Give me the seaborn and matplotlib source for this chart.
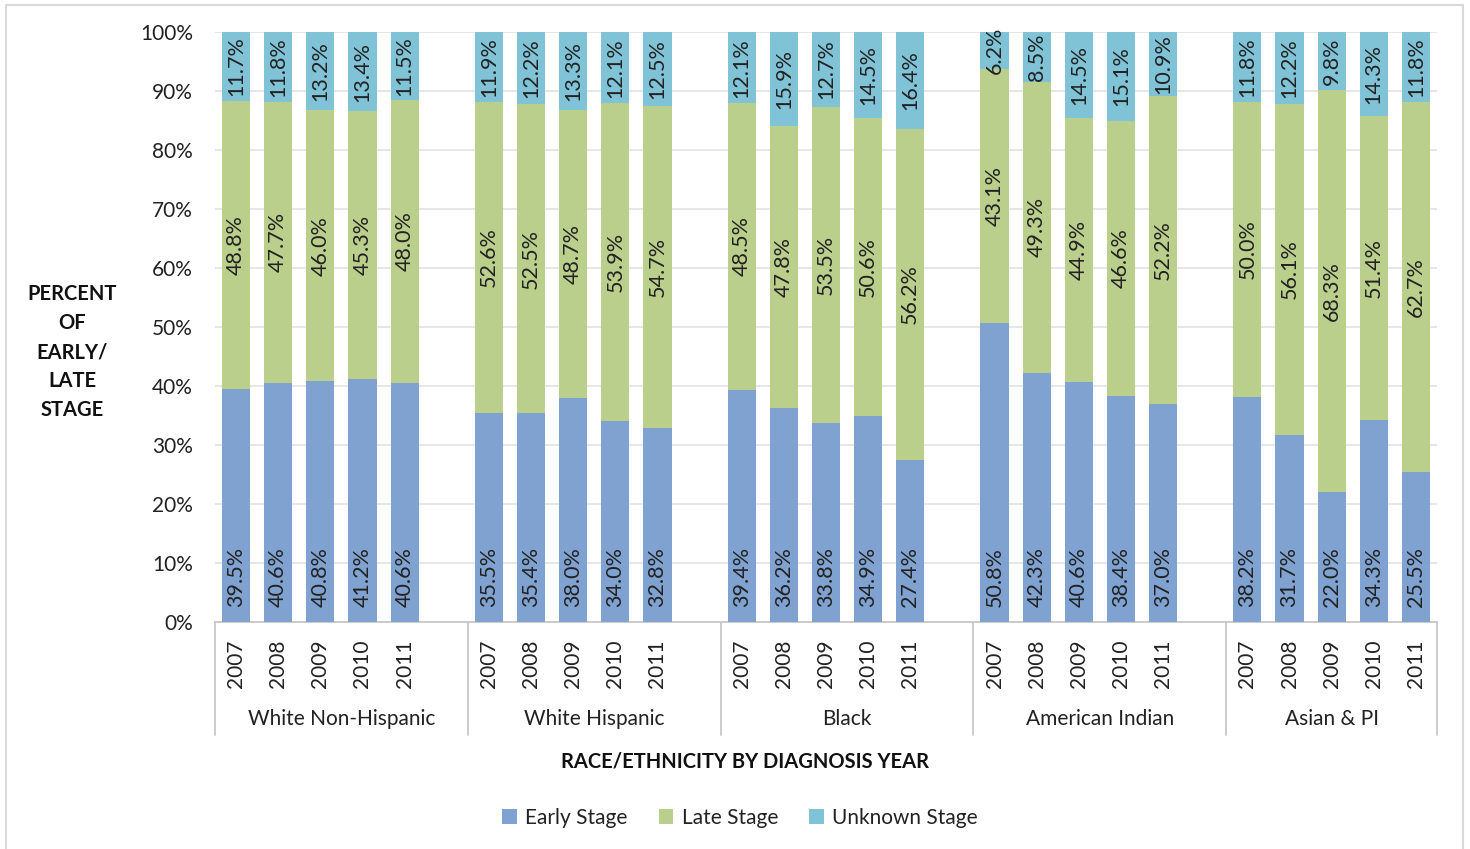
import matplotlib
matplotlib.use("Agg")
import matplotlib.pyplot as plt
import matplotlib.transforms as mtransforms
from matplotlib.patches import Rectangle, Patch
import numpy as np
import pandas as pd
import seaborn as sns

# ---- data ---------------------------------------------------------------
groups = ["White Non-Hispanic", "White Hispanic", "Black", "American Indian", "Asian & PI"]
years = ["2007", "2008", "2009", "2010", "2011"]

early = {
    "White Non-Hispanic": [39.5, 40.6, 40.8, 41.2, 40.6],
    "White Hispanic":     [35.5, 35.4, 38.0, 34.0, 32.8],
    "Black":              [39.4, 36.2, 33.8, 34.9, 27.4],
    "American Indian":    [50.8, 42.3, 40.6, 38.4, 37.0],
    "Asian & PI":         [38.2, 31.7, 22.0, 34.3, 25.5],
}
late = {
    "White Non-Hispanic": [48.8, 47.7, 46.0, 45.3, 48.0],
    "White Hispanic":     [52.6, 52.5, 48.7, 53.9, 54.7],
    "Black":              [48.5, 47.8, 53.5, 50.6, 56.2],
    "American Indian":    [43.1, 49.3, 44.9, 46.6, 52.2],
    "Asian & PI":         [50.0, 56.1, 68.3, 51.4, 62.7],
}
unknown = {
    "White Non-Hispanic": [11.7, 11.8, 13.2, 13.4, 11.5],
    "White Hispanic":     [11.9, 12.2, 13.3, 12.1, 12.5],
    "Black":              [12.1, 15.9, 12.7, 14.5, 16.4],
    "American Indian":    [6.2, 8.5, 14.5, 15.1, 10.9],
    "Asian & PI":         [11.8, 12.2, 9.8, 14.3, 11.8],
}

series_names = ["Early Stage", "Late Stage", "Unknown Stage"]
colors = {"Early Stage": "#7FA2D1", "Late Stage": "#BACF8C", "Unknown Stage": "#80C3D7"}

# ---- long table with cumulative tops (100% stacked) ---------------------
rows = []
for g in groups:
    for i, y in enumerate(years):
        e, l, u = early[g][i], late[g][i], unknown[g][i]
        tot = e + l + u
        rows.append(dict(key=f"{g}|{y}", group=g, year=y, early=e, late=l, unknown=u,
                         top_early=100 * e / tot, top_late=100 * (e + l) / tot,
                         top_unknown=100 * tot / tot))
df = pd.DataFrame(rows)

# category order with one blank slot between race groups
order = []
for gi, g in enumerate(groups):
    order += [f"{g}|{y}" for y in years]
    if gi < len(groups) - 1:
        order.append(f"__blank{gi}")

sns.set_style("white")
plt.rcParams["font.family"] = ["Lato", "DejaVu Sans"]
fig = plt.figure(figsize=(14.7, 8.49), dpi=100)
ax = fig.add_axes([215 / 1470, 1 - 622 / 849, (1437 - 215) / 1470, (622 - 32) / 849])

bw = 0.67
for col, name in [("top_unknown", "Unknown Stage"), ("top_late", "Late Stage"), ("top_early", "Early Stage")]:
    sns.barplot(data=df, x="key", y=col, order=order, color=colors[name],
                width=bw, saturation=1, ax=ax, zorder=3, linewidth=0)

TXT = "#222222"
FS = 15.5
ax.set_ylim(0, 100)
ax.set_xlim(-0.5, len(order) - 0.5)
ax.set_yticks(np.arange(0, 101, 10))
ax.set_yticklabels([f"{v}%" for v in range(0, 101, 10)], fontsize=15, color=TXT)
ax.tick_params(axis="y", length=0, pad=16)
ax.grid(axis="y", color="#E3E3E3", linewidth=1.2, zorder=0)
ax.set_axisbelow(True)
for s in ["left", "right", "top"]:
    ax.spines[s].set_visible(False)
ax.spines["bottom"].set_color("#C8C8C8")
ax.spines["bottom"].set_linewidth(1.3)
ax.set_xlabel("")
ax.set_ylabel("")

# year tick labels
pos = {k: i for i, k in enumerate(order)}
xt = [pos[k] for k in df["key"]]
ax.set_xticks(xt)
ax.set_xticklabels(df["year"], rotation=90, fontsize=15, color=TXT, va="top")
ax.tick_params(axis="x", length=0, pad=12.5)

# value labels on each segment
for _, r in df.iterrows():
    x = pos[r["key"]]
    ax.text(x, 2.6, f"{r['early']:.1f}%", rotation=90, ha="center", va="bottom",
            fontsize=FS, color=TXT, zorder=5)
    ax.text(x, (r["top_early"] + r["top_late"]) / 2, f"{r['late']:.1f}%", rotation=90,
            ha="center", va="center", fontsize=FS, color=TXT, zorder=5)
    ax.text(x, (r["top_late"] + r["top_unknown"]) / 2, f"{r['unknown']:.1f}%",
            rotation=90, ha="center", va="center", fontsize=FS, color=TXT, zorder=5)

# group separators and group names beneath the year labels
trans = mtransforms.blended_transform_factory(ax.transData, ax.transAxes)
y_low = -(735 - 622) / (622 - 32)
bounds = [-0.5]
for gi in range(len(groups)):
    start = gi * 6
    end = start + 5 if gi == len(groups) - 1 else start + 6
    bounds.append(end - 0.5)
for gi, g in enumerate(groups):
    ax.text((bounds[gi] + bounds[gi + 1]) / 2, -(719 - 622) / (622 - 32), g, transform=trans,
            ha="center", va="center", fontsize=15, color=TXT)
for b in bounds:
    ax.plot([b, b], [0, y_low], transform=trans, color="#C8C8C8", linewidth=1.3,
            clip_on=False)

# axis titles
fig.text(745 / 1470, 1 - 762 / 849, "RACE/ETHNICITY BY DIAGNOSIS YEAR", ha="center",
         va="center", fontsize=14.5, fontweight="bold", color="#111111")
fig.text(72 / 1470, 1 - 352 / 849, "PERCENT\nOF\nEARLY/\nLATE\nSTAGE", ha="center",
         va="center", fontsize=14.5, fontweight="bold", color="#111111", linespacing=1.55)

# legend
handles = [Patch(facecolor=colors[n], edgecolor="none") for n in series_names]
fig.legend(handles, series_names, loc="center", bbox_to_anchor=(740 / 1470, 1 - 818 / 849),
           ncol=3, frameon=False, fontsize=15, handlelength=0.7, handleheight=0.7,
           handletextpad=0.4, columnspacing=1.5, labelcolor=TXT)

# chart frame
fig.patches.append(Rectangle((6 / 1470, -0.02), (1463 - 6) / 1470, 1.02 - 5 / 849,
                             transform=fig.transFigure, fill=False, edgecolor="#D9D9D9",
                             linewidth=1.5, zorder=0))

fig.savefig("out.png", dpi=100)
